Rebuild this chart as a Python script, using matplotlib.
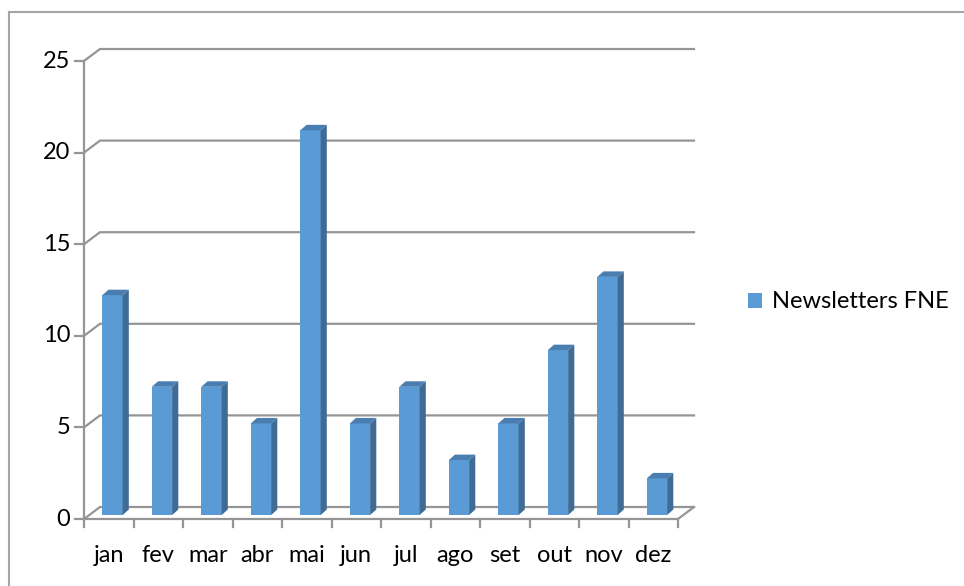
import matplotlib
matplotlib.use('Agg')
import matplotlib.pyplot as plt
import numpy as np
from matplotlib.patches import Polygon, Patch
from matplotlib.lines import Line2D

plt.rcParams['font.family'] = ['Lato', 'DejaVu Sans']

months = ['jan', 'fev', 'mar', 'abr', 'mai', 'jun', 'jul', 'ago', 'set', 'out', 'nov', 'dez']
newsletters = [12, 7, 7, 5, 21, 5, 7, 3, 5, 9, 13, 2]
y_ticks = [0, 5, 10, 15, 20, 25]
series_name = 'Newsletters FNE'

W, H = 964, 586
fig = plt.figure(figsize=(W / 100, H / 100), dpi=100)
# plot area: front plane, x 84..678 px, y 519..61 px
ax = fig.add_axes([84 / W, (H - 519) / H, 594 / W, 458 / H])
n = len(months)
ax.set_xlim(0, n)
ax.set_ylim(0, 25)
ax.axis('off')

# depth offset of back wall in data units
DX, DY = 16 / 49.5, 12 / 18.32
grid_c = '#959595'
lw = 1.6
fs = 17

# back wall gridlines with left-wall diagonals
for v in y_ticks:
    ax.plot([0, DX, n + DX], [v, v + DY, v + DY], color=grid_c, lw=lw,
            solid_joinstyle='miter', clip_on=False, zorder=1)
# floor
ax.plot([0, n, n + DX], [0, 0, DY], color=grid_c, lw=lw, clip_on=False, zorder=1)
# front vertical axis
ax.plot([0, 0], [0, 25], color=grid_c, lw=lw, clip_on=False, zorder=1)
# ticks
for v in y_ticks:
    ax.plot([-0.18, 0], [v, v], color=grid_c, lw=lw, clip_on=False, zorder=1)
    ax.text(-0.28, v, str(v), ha='right', va='center', fontsize=fs, color='#000000')
for i in range(n + 1):
    ax.plot([i, i], [0, -0.45], color=grid_c, lw=lw, clip_on=False, zorder=1)
for i, m in enumerate(months):
    ax.text(i + 0.5, -2.0, m, ha='center', va='center', fontsize=fs, color='#000000')

# 3d bars
x = np.arange(n)
left = x + 0.37
bw = 0.41
base = 0.33 * DY
ddx, ddy = 0.125, 0.3
front_c = '#5B9BD5'
side_c = '#3F6B94'
top_c = '#4A7DB0'
ax.bar(left, newsletters, width=bw, bottom=base, align='edge', color=front_c,
       edgecolor='none', zorder=3)
for l, v in zip(left, newsletters):
    r = l + bw
    t = base + v
    ax.add_patch(Polygon([[r, base], [r + ddx, base + ddy], [r + ddx, t + ddy], [r, t]],
                         closed=True, facecolor=side_c, edgecolor='none', zorder=3))
    ax.add_patch(Polygon([[l, t], [l + ddx, t + ddy], [r + ddx, t + ddy], [r, t]],
                         closed=True, facecolor=top_c, edgecolor='none', zorder=3))

# legend
fig.legend(handles=[Patch(facecolor=front_c, edgecolor='none')], labels=[series_name],
           loc='center left', bbox_to_anchor=(748 / W, 1 - 302 / H), frameon=False,
           handlelength=0.6, handleheight=0.6, handletextpad=0.4, fontsize=fs,
           borderpad=0, borderaxespad=0)

# outer chart border (cropped at right and bottom)
border_c = '#A6A6A6'
fig.add_artist(Line2D([8.5 / W, 8.5 / W], [0, 1 - 12 / H], color=border_c, lw=1.5))
fig.add_artist(Line2D([8.5 / W, 1], [1 - 12 / H, 1 - 12 / H], color=border_c, lw=1.5))

fig.savefig('out.png', dpi=100)
